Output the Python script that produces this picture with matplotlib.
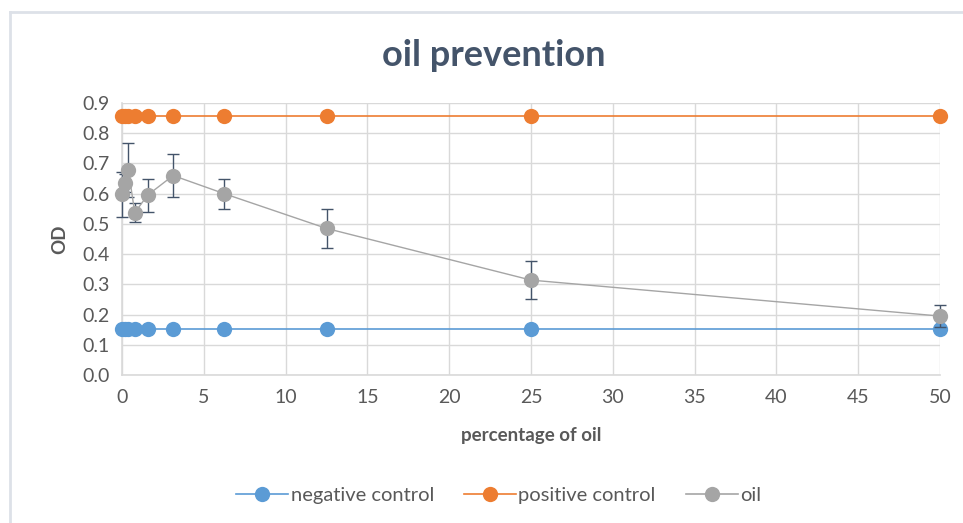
import matplotlib.pyplot as plt
from matplotlib.lines import Line2D

plt.rcParams['font.family'] = ['Lato', 'DejaVu Sans']

# data
conc = [0, 0.195, 0.39, 0.78, 1.5625, 3.125, 6.25, 12.5, 25, 50]
neg_ctrl = [0.152] * 10
pos_ctrl = [0.858] * 10
oil = [0.598, 0.636, 0.678, 0.537, 0.595, 0.660, 0.600, 0.485, 0.314, 0.195]
oil_err = [0.075, 0.03, 0.09, 0.032, 0.055, 0.07, 0.05, 0.065, 0.062, 0.037]

text_col = '#595959'
title_col = '#44546A'
grid_col = '#D9D9D9'

fig = plt.figure(figsize=(9.63, 5.23), dpi=100)
ax = fig.add_axes([122 / 963, 1 - 375 / 523, 818 / 963, 272 / 523])

ms = 11
ax.plot(conc, neg_ctrl, color='#5B9BD5', lw=1.2, marker='o', ms=ms,
        markeredgewidth=0, zorder=3, clip_on=False)
ax.plot(conc, pos_ctrl, color='#ED7D31', lw=1.2, marker='o', ms=ms,
        markeredgewidth=0, zorder=3, clip_on=False)
ax.errorbar(conc, oil, yerr=oil_err, fmt='none', ecolor=title_col,
            elinewidth=1.0, capsize=4, capthick=1.0, zorder=4, clip_on=False)
ax.plot(conc, oil, color='#A5A5A5', lw=1.0, marker='o', ms=ms,
        markeredgewidth=0, zorder=5, clip_on=False)

ax.set_xlim(0, 50)
ax.set_ylim(0, 0.9)
ax.set_xticks(range(0, 51, 5))
ax.set_yticks([i / 10 for i in range(10)])
ax.set_yticklabels([f'{i / 10:.1f}' for i in range(10)])
ax.grid(True, color=grid_col, lw=1)
ax.set_axisbelow(True)
for s in ['top', 'right']:
    ax.spines[s].set_visible(False)
for s in ['left', 'bottom']:
    ax.spines[s].set_color(grid_col)
    ax.spines[s].set_linewidth(1.2)
ax.tick_params(length=0, labelsize=14, colors=text_col, pad=9)
ax.tick_params(axis='x', pad=10)

ax.set_xlabel('percentage of oil', fontsize=13.5, fontweight='bold', color=text_col, labelpad=15)
ax.set_ylabel('OD', fontsize=13.5, fontweight='bold', color=text_col, labelpad=10)
fig.text(494 / 963, 1 - 55 / 523, 'oil prevention', ha='center', va='center',
         fontsize=26, fontweight='bold', color=title_col)

handles = [Line2D([], [], color=c, marker='o', ms=11, markeredgewidth=0, lw=1.2)
           for c in ['#5B9BD5', '#ED7D31', '#A5A5A5']]
fig.legend(handles, ['negative control', 'positive control', 'oil'],
           loc='center', bbox_to_anchor=(0.518, 1 - 495 / 523), ncol=3,
           frameon=False, fontsize=14.5, labelcolor=text_col,
           handlelength=2.6, columnspacing=1.5, handletextpad=0.1)

# chart frame
fig.add_artist(Line2D([10 / 963, 1], [1 - 12 / 523, 1 - 12 / 523], color='#DDE1E8', lw=2))
fig.add_artist(Line2D([10 / 963, 10 / 963], [0, 1 - 12 / 523], color='#DDE1E8', lw=2))

fig.savefig('out.png', dpi=100)
